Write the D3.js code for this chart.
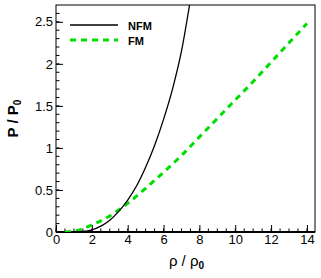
<!DOCTYPE html>
<html>
<head>
<meta charset="utf-8">
<script src="https://cdn.jsdelivr.net/npm/d3@7"></script>
<style>
  html, body { margin: 0; padding: 0; background: #fff; overflow: hidden; }
  svg { display: block; }
  text { font-family: "Liberation Sans", Arial, sans-serif; }
</style>
</head>
<body>
<div id="chart"></div>
<script>
// values
const nfmRho = [1.0, 1.5, 2, 2.5, 3, 3.5, 4, 4.5, 5, 5.5, 6, 6.5, 7, 7.45, 7.6]
const nfmP   = [0, 0.006, 0.026, 0.07, 0.14, 0.245, 0.38, 0.55, 0.77, 1.03, 1.34, 1.70, 2.15, 2.70, 2.90]
const fmRho  = [0.5, 1, 1.5, 2, 3, 4, 5, 6, 7, 8, 9, 10, 11, 12, 13, 14]
const fmP    = [0, 0.01, 0.04, 0.085, 0.19, 0.34, 0.52, 0.71, 0.91, 1.13, 1.35, 1.57, 1.79, 2.02, 2.25, 2.48]
const xTicks = [0, 2, 4, 6, 8, 10, 12, 14]
const yTicks = [0, 0.5, 1, 1.5, 2, 2.5]
const seriesNames = ['NFM', 'FM']

const width = 321, height = 278
const margin = {top: 5, right: 6, bottom: 46, left: 56}
const innerWidth = width - margin.left - margin.right
const innerHeight = height - margin.top - margin.bottom

const svg = d3.select('#chart').append('svg')
  .attr('width', width).attr('height', height)

const g = svg.append('g')
  .attr('transform', 'translate(' + margin.left + ',' + margin.top + ')')

const x = d3.scaleLinear().domain([0, 14.45]).range([0, innerWidth])
const y = d3.scaleLinear().domain([0, 2.7]).range([innerHeight, 0])

g.append('clipPath').attr('id', 'clip')
  .append('rect').attr('width', innerWidth).attr('height', innerHeight)

// minor ticks
const xMinor = d3.range(0, 14.45, 0.5)
const yMinor = d3.range(0, 2.7, 0.1)

g.append('g').selectAll('line').data(xMinor).enter().append('line')
  .attr('x1', d => x(d)).attr('x2', d => x(d))
  .attr('y1', innerHeight).attr('y2', innerHeight - 3.5)
  .attr('stroke', '#000').attr('stroke-width', 1)
g.append('g').selectAll('line').data(yMinor).enter().append('line')
  .attr('y1', d => y(d)).attr('y2', d => y(d))
  .attr('x1', 0).attr('x2', 3.5)
  .attr('stroke', '#000').attr('stroke-width', 1)

// axes, ticks pointing inward
const xAxis = g.append('g')
  .attr('transform', 'translate(0,' + innerHeight + ')')
  .call(d3.axisBottom(x).tickValues(xTicks).tickSize(-7).tickPadding(3).tickSizeOuter(0))
const yAxis = g.append('g')
  .call(d3.axisLeft(y).tickValues(yTicks).tickSize(-7).tickPadding(3).tickSizeOuter(0)
    .tickFormat(d => d === 0 ? '0' : d3.format('~g')(d)))

;[xAxis, yAxis].forEach(a => {
  a.select('.domain').remove()
  a.selectAll('line').attr('stroke', '#000')
  a.selectAll('text').attr('font-size', 13).attr('fill', '#000')
    .attr('font-family', '"Liberation Sans", Arial, sans-serif')
})

// frame
g.append('rect').attr('width', innerWidth).attr('height', innerHeight)
  .attr('fill', 'none').attr('stroke', '#000').attr('stroke-width', 1)
g.append('line').attr('x1', 0).attr('x2', innerWidth)
  .attr('y1', innerHeight).attr('y2', innerHeight)
  .attr('stroke', '#000').attr('stroke-width', 2)

const line = d3.line().x(d => x(d[0])).y(d => y(d[1])).curve(d3.curveMonotoneX)

const plot = g.append('g').attr('clip-path', 'url(#clip)')
plot.append('path')
  .datum(fmRho.map((r, i) => [r, fmP[i]]))
  .attr('d', line)
  .attr('fill', 'none').attr('stroke', '#00dd00')
  .attr('stroke-width', 3).attr('stroke-dasharray', '6,5')
plot.append('path')
  .datum(nfmRho.map((r, i) => [r, nfmP[i]]))
  .attr('d', line)
  .attr('fill', 'none').attr('stroke', '#000').attr('stroke-width', 1.3)

// legend
const legend = g.append('g').attr('transform', 'translate(14,20)')
legend.append('line').attr('x1', 0).attr('x2', 48).attr('y1', 0).attr('y2', 0)
  .attr('stroke', '#000').attr('stroke-width', 1.3)
legend.append('line').attr('x1', 0).attr('x2', 48).attr('y1', 15).attr('y2', 15)
  .attr('stroke', '#00dd00').attr('stroke-width', 3).attr('stroke-dasharray', '6,5')
legend.selectAll('text').data(seriesNames).enter().append('text')
  .attr('x', 58).attr('y', (d, i) => i * 15 + 4.5)
  .attr('font-size', 11).attr('font-weight', 'bold')
  .text(d => d)

// axis titles
const xt = svg.append('text')
  .attr('x', margin.left + innerWidth / 2 + 1).attr('y', 266)
  .attr('text-anchor', 'middle').attr('font-size', 15)
xt.append('tspan').text('ρ / ρ')
xt.append('tspan').attr('font-size', 10).attr('font-weight', 'bold').attr('dy', 3).text('0')

const yt = svg.append('text')
  .attr('transform', 'translate(18,' + (margin.top + innerHeight / 2) + ') rotate(-90)')
  .attr('text-anchor', 'middle').attr('font-size', 15).attr('font-weight', 'bold')
yt.append('tspan').text('P / P')
yt.append('tspan').attr('font-size', 10).attr('dy', 3).text('0')
</script>
</body>
</html>
